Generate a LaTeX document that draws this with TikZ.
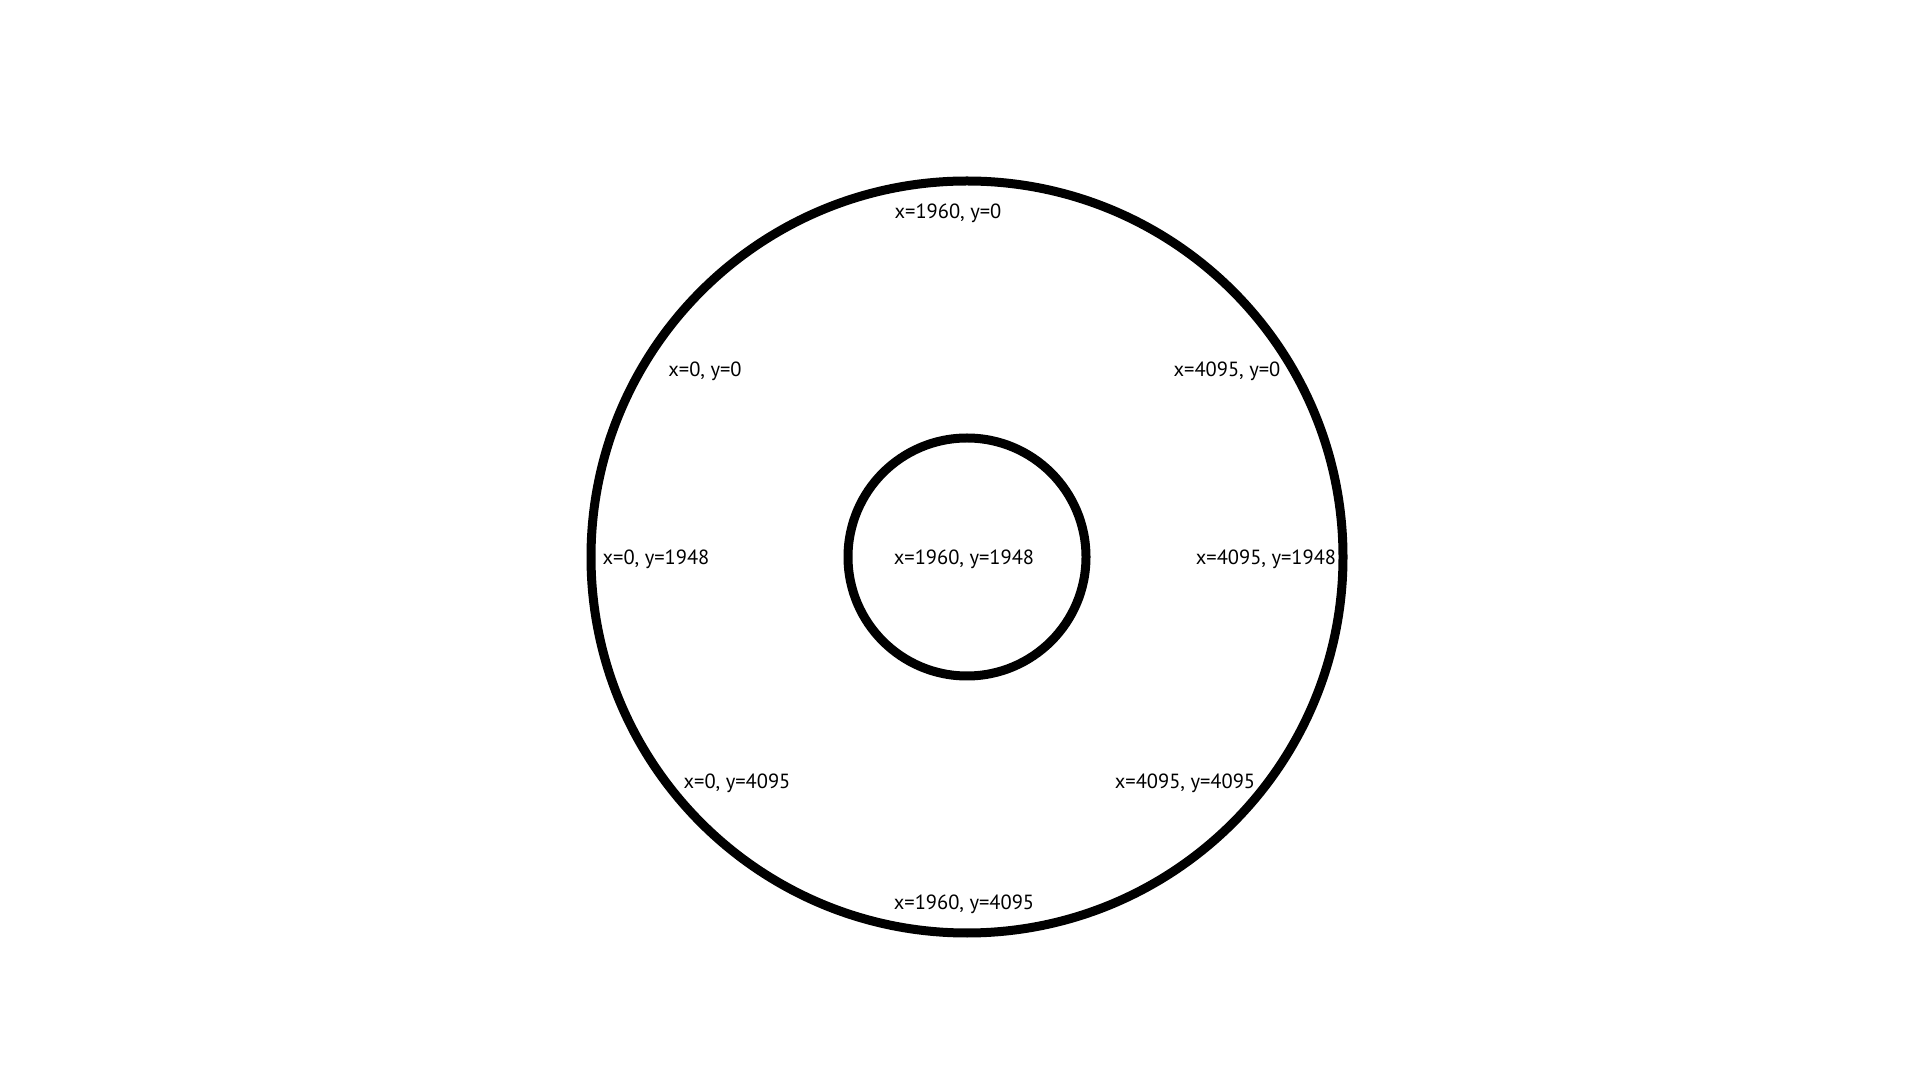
\documentclass[tikz,border=0pt]{standalone}
\usepackage{fontspec}
\setmainfont{PT Sans}
\usepackage{tikz}

\begin{document}
\begin{tikzpicture}[x=1pt,y=1pt]
    \tikzset{ring/.style={line width=9pt}, coord/.style={font=\fontsize{20.5}{24}\selectfont, inner sep=0pt}}
    \useasboundingbox (0,0) rectangle (1920,1080);
    \draw[ring] (967,523) circle (376);
    \draw[ring] (967,523) circle (119);
    \node[coord] (topmid) at (948,867) {x=1960, y=0};
    \node[coord] (topleft) at (705,709) {x=0, y=0};
    \node[coord] (topright) at (1227,709) {x=4095, y=0};
    \node[coord] (midleft) at (656,521) {x=0, y=1948};
    \node[coord] (centre) at (964,521) {x=1960, y=1948};
    \node[coord] (midright) at (1266,521) {x=4095, y=1948};
    \node[coord] (botleft) at (737,297) {x=0, y=4095};
    \node[coord] (botright) at (1185,297) {x=4095, y=4095};
    \node[coord] (botmid) at (964,176) {x=1960, y=4095};
\end{tikzpicture}
\end{document}
